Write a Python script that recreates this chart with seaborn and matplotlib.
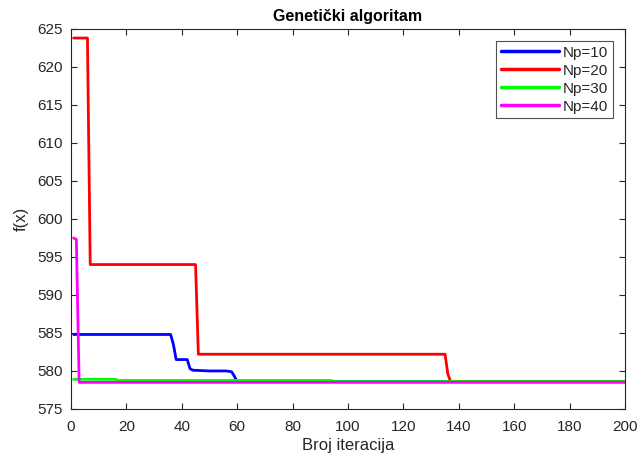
import matplotlib
matplotlib.use("Agg")
import matplotlib.pyplot as plt
import seaborn as sns
import pandas as pd

# Read-off breakpoints (iteration, f(x)) for each population size
np10_x = [1, 36, 37, 38, 42, 43, 44, 50, 56, 58, 59, 60, 200]
np10_y = [584.8, 584.8, 583.5, 581.5, 581.5, 580.3, 580.1, 580.0, 580.0, 579.9, 579.3, 578.6, 578.6]

np20_x = [1, 6, 7, 45, 46, 135, 136, 137, 200]
np20_y = [623.8, 623.8, 594.0, 594.0, 582.2, 582.2, 579.6, 578.6, 578.6]

np30_x = [1, 16, 17, 94, 95, 200]
np30_y = [578.9, 578.9, 578.75, 578.75, 578.6, 578.6]

np40_x = [1, 2, 3, 200]
np40_y = [597.5, 597.3, 578.5, 578.5]

labels = ["Np=10", "Np=20", "Np=30", "Np=40"]
colors = ["#0000ff", "#ff0000", "#00ff00", "#ff00ff"]

xticks = list(range(0, 201, 20))
yticks = list(range(575, 626, 5))

frames = []
for lab, xs, ys in zip(labels, [np10_x, np20_x, np30_x, np40_x], [np10_y, np20_y, np30_y, np40_y]):
    frames.append(pd.DataFrame({"iter": xs, "f": ys, "series": lab}))
df = pd.concat(frames, ignore_index=True)

sns.set_theme(style="ticks")
plt.rcParams["font.family"] = ["Liberation Sans", "DejaVu Sans"]

fig = plt.figure(figsize=(6.38, 4.59), dpi=100)
ax = fig.add_axes([0.111, 0.109, 0.869, 0.828])

sns.lineplot(data=df, x="iter", y="f", hue="series", hue_order=labels,
             palette=colors, linewidth=2.0, sort=False, estimator=None, ax=ax)

ax.set_xlim(0, 200)
ax.set_ylim(575, 625)
ax.set_xticks(xticks)
ax.set_yticks(yticks)
ax.tick_params(direction="in", top=True, right=True, length=4, width=0.8,
               labelsize=11, colors="#262626", labelcolor="#262626")
ax.tick_params(axis="x", pad=8)
ax.tick_params(axis="y", pad=6)
for sp in ax.spines.values():
    sp.set_visible(True)
    sp.set_color("#262626")
    sp.set_linewidth(0.8)

ax.set_xlabel("Broj iteracija", fontsize=12, color="#262626", labelpad=3)
ax.set_ylabel("f(x)", fontsize=12, color="#262626", labelpad=6)
ax.set_title("Genetički algoritam", fontsize=11.5, fontweight="bold", color="black", pad=6)

leg = ax.legend(loc="upper right", fontsize=11, frameon=True, fancybox=False,
                edgecolor="#262626", handlelength=3.8, borderpad=0.3,
                labelspacing=0.26, handletextpad=0.3, borderaxespad=0.8)
leg.get_frame().set_linewidth(0.8)
for line in leg.get_lines():
    line.set_linewidth(2.5)

fig.savefig("out.png", dpi=100)
